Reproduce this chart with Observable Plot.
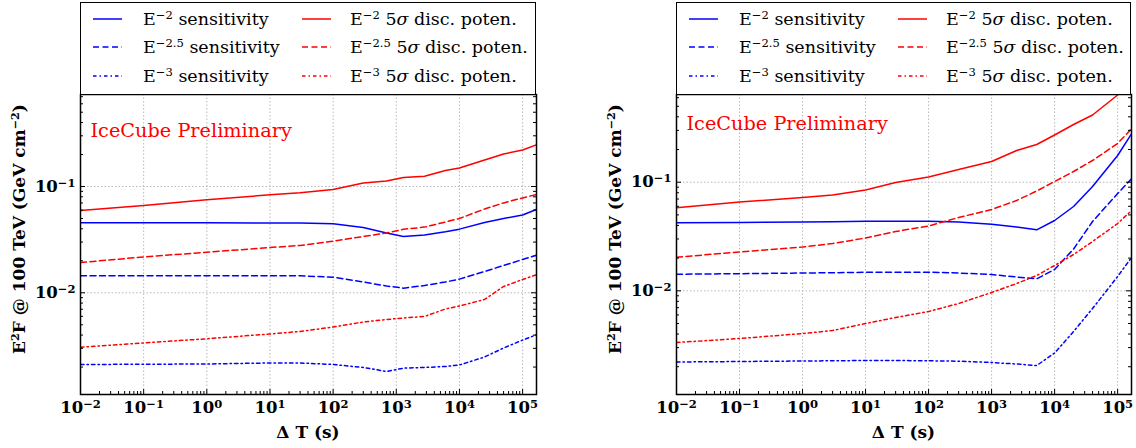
<!DOCTYPE html>
<html>
<head>
<meta charset="utf-8">
<script src="https://cdn.jsdelivr.net/npm/d3@7"></script>
<script src="https://cdn.jsdelivr.net/npm/@observablehq/plot@0.6"></script>
<style>
  body { margin: 0; background: #fff; }
  #chart { position: relative; width: 1136px; height: 448px; overflow: hidden; background: #fff;
           font-family: "DejaVu Serif", serif; color: #000; }
  .panel { position: absolute; top: 0; height: 448px; }
  .legend { position: absolute; top: 1.5px; box-sizing: border-box; border: 1.5px solid #000; background: #fff;
            font-size: 17.5px; }
  .legend .item { position: absolute; height: 24px; line-height: 24px; white-space: nowrap; }
  .legend svg { position: absolute; }
  sup.s { font-size: 0.66em; position: relative; top: -0.5em; vertical-align: baseline; }
  .xtitle { position: absolute; top: 420px; text-align: center; font-weight: bold; font-size: 17px; line-height: 24px; }
  .ytitle { position: absolute; white-space: nowrap; font-weight: bold; font-size: 17px;
            transform: translate(-50%, -50%) rotate(-90deg); }
  .panel svg.plot { position: absolute; top: 93px; left: 0; overflow: visible; }
</style>
</head>
<body>
<div id="chart"></div>
<script>
// Observation windows (seconds) at which each curve is sampled
const LEFT_T  = [0.01, 0.1, 1, 10, 30, 100, 300, 700, 1300, 2800, 6000, 1e4, 2.5e4, 5e4, 1e5, 1.66e5];
const RIGHT_T = [0.01, 0.1, 1, 3, 10, 30, 100, 300, 1000, 2500, 5200, 1e4, 2e4, 4e4, 1e5, 1.66e5];

// Left panel: E^2 F at 100 TeV (GeV cm^-2)
const LEFT_SENS_E2   = [0.0456, 0.0456, 0.0455, 0.0454, 0.0453, 0.0446, 0.0411, 0.0365, 0.0339, 0.0350, 0.0375, 0.0397, 0.0458, 0.0500, 0.0539, 0.0608];
const LEFT_SENS_E25  = [0.01445, 0.01445, 0.01445, 0.01445, 0.01445, 0.01402, 0.01264, 0.01159, 0.01105, 0.01171, 0.01264, 0.01345, 0.01586, 0.01806, 0.02057, 0.02258];
const LEFT_SENS_E3   = [0.002116, 0.002125, 0.002139, 0.002186, 0.002186, 0.002116, 0.001983, 0.001818, 0.001953, 0.001983, 0.002026, 0.002093, 0.002489, 0.003025, 0.003589, 0.004026];
const LEFT_DISC_E2   = [0.0594, 0.0663, 0.0750, 0.0835, 0.0872, 0.0937, 0.1079, 0.1126, 0.1215, 0.1250, 0.1414, 0.1493, 0.1775, 0.2021, 0.2205, 0.2467];
const LEFT_DISC_E25  = [0.01928, 0.02172, 0.02409, 0.02667, 0.02786, 0.03058, 0.03386, 0.03652, 0.03958, 0.04149, 0.04634, 0.0500, 0.0614, 0.0701, 0.0781, 0.0841];
const LEFT_DISC_E3   = [0.003077, 0.003372, 0.003693, 0.004097, 0.004324, 0.004767, 0.005314, 0.005607, 0.005793, 0.005984, 0.007041, 0.00751, 0.00865, 0.01146, 0.01334, 0.01477];

// Right panel: E^2 F at 100 TeV (GeV cm^-2)
const RIGHT_SENS_E2  = [0.04227, 0.04256, 0.04301, 0.04329, 0.04365, 0.04375, 0.04375, 0.04301, 0.04095, 0.03869, 0.03645, 0.0444, 0.05973, 0.09129, 0.1761, 0.279];
const RIGHT_SENS_E25 = [0.01422, 0.01437, 0.01458, 0.01468, 0.0148, 0.01483, 0.01483, 0.01458, 0.01413, 0.0134, 0.0129, 0.01571, 0.02426, 0.04346, 0.07866, 0.1075];
const RIGHT_SENS_E3  = [0.002211, 0.002234, 0.002258, 0.002268, 0.002282, 0.002282, 0.002268, 0.002248, 0.002187, 0.002118, 0.002052, 0.002676, 0.004219, 0.006871, 0.01354, 0.02025];
const RIGHT_DISC_E2  = [0.0581, 0.0657, 0.0723, 0.0762, 0.0848, 0.0994, 0.1116, 0.1309, 0.1551, 0.1957, 0.2224, 0.272, 0.3398, 0.4157, 0.6353, 0.802];
const RIGHT_DISC_E25 = [0.02039, 0.02277, 0.02531, 0.02725, 0.03062, 0.03516, 0.03951, 0.04731, 0.05605, 0.06784, 0.08298, 0.1015, 0.1255, 0.1584, 0.2272, 0.3101];
const RIGHT_DISC_E3  = [0.00334, 0.00364, 0.00404, 0.00431, 0.0050, 0.005676, 0.006447, 0.007638, 0.009645, 0.01167, 0.01383, 0.0171, 0.02159, 0.02844, 0.04166, 0.05488];

// Axis ticks
const X_MAJOR = [1e-2, 1e-1, 1, 1e1, 1e2, 1e3, 1e4, 1e5];
const Y_MAJOR = [1e-2, 1e-1];
const MANTISSAS = [2, 3, 4, 5, 6, 7, 8, 9];

// Legend entries: spectral index and curve kind
const INDICES = ["2", "2.5", "3"];
const KINDS = ["sensitivity", "disc"];

const COLORS = {sensitivity: "#0000ff", disc: "#ff0000"};
const DASHES = {"2": null, "2.5": "6,3.5", "3": "3.5,3,1.5,3"};

const X_DOMAIN = [0.01, 1.66e5];

const panels = [
  {left: 0, width: 556, plotWidth: 456, yDomain: [0.001104, 0.734], prelimDy: 36, T: LEFT_T,
   values: {sensitivity: [LEFT_SENS_E2, LEFT_SENS_E25, LEFT_SENS_E3], disc: [LEFT_DISC_E2, LEFT_DISC_E25, LEFT_DISC_E3]}},
  {left: 596, width: 540, plotWidth: 455, yDomain: [0.00111, 0.642], prelimDy: 29, T: RIGHT_T,
   values: {sensitivity: [RIGHT_SENS_E2, RIGHT_SENS_E25, RIGHT_SENS_E3], disc: [RIGHT_DISC_E2, RIGHT_DISC_E25, RIGHT_DISC_E3]}}
];

function minorTicks(lo, hi) {
  const out = [];
  for (let e = Math.floor(Math.log10(lo)); e <= Math.ceil(Math.log10(hi)); e++) {
    for (const m of MANTISSAS) {
      const v = m * Math.pow(10, e);
      if (v > lo && v < hi) out.push(v);
    }
  }
  return out;
}

const powerLabel = d => "10^" + Math.round(Math.log10(d));

// turn "10^-2" tick strings into a base with a raised exponent
function raiseExponents(svg) {
  svg.querySelectorAll('g[aria-label$="tick label"] text').forEach(t => {
    const m = t.textContent.match(/^10\^(-?\d+)$/);
    if (!m) return;
    t.textContent = "";
    const base = document.createElementNS("http://www.w3.org/2000/svg", "tspan");
    base.textContent = "10";
    const exp = document.createElementNS("http://www.w3.org/2000/svg", "tspan");
    exp.setAttribute("dy", "-0.45em");
    exp.setAttribute("font-size", "11.5px");
    exp.textContent = m[1].replace("-", "\u2212");
    t.append(base, exp);
  });
}

function legendLabel(idx, kind) {
  const sup = `E<sup class="s">\u2212${idx}</sup>`;
  return kind === "sensitivity" ? `${sup} sensitivity` : `${sup} 5<i>\u03c3</i> disc. poten.`;
}

const chart = document.getElementById("chart");

for (const p of panels) {
  const panel = document.createElement("div");
  panel.className = "panel";
  panel.style.left = p.left + "px";
  panel.style.width = p.width + "px";
  chart.append(panel);

  const H = 355, MT = 1, MB = 54, ML = 80;
  const plotH = H - MT - MB;
  const MR = p.width - ML - p.plotWidth;

  const rows = [];
  KINDS.forEach(kind => INDICES.forEach((idx, i) => {
    p.T.forEach((t, j) => rows.push({t, v: p.values[kind][i][j], kind, idx}));
  }));

  const xMinor = minorTicks(X_DOMAIN[0], X_DOMAIN[1]);
  const yMinor = minorTicks(p.yDomain[0], p.yDomain[1]);

  const lineMarks = [];
  KINDS.forEach(kind => INDICES.forEach(idx => {
    lineMarks.push(Plot.line(rows.filter(r => r.kind === kind && r.idx === idx), {
      x: "t", y: "v", stroke: COLORS[kind], strokeWidth: 1.5,
      strokeDasharray: DASHES[idx] || undefined, clip: true
    }));
  }));

  const svg = Plot.plot({
    width: p.width, height: H,
    marginTop: MT, marginBottom: MB, marginLeft: ML, marginRight: MR,
    x: {type: "log", domain: X_DOMAIN},
    y: {type: "log", domain: p.yDomain},
    style: {fontFamily: "DejaVu Serif", background: "transparent", color: "#000"},
    marks: [
      Plot.gridX(X_MAJOR, {stroke: "#b8b8b8", strokeOpacity: 1, strokeDasharray: "1.5,2"}),
      Plot.gridY(Y_MAJOR, {stroke: "#b8b8b8", strokeOpacity: 1, strokeDasharray: "1.5,2"}),
      ...lineMarks,
      // inward ticks along bottom, left and right edges
      Plot.tickX(X_MAJOR, {x: d => d, insetTop: plotH - 5, stroke: "#000"}),
      Plot.tickX(xMinor, {x: d => d, insetTop: plotH - 3, stroke: "#000"}),
      Plot.tickY(Y_MAJOR, {y: d => d, insetRight: p.plotWidth - 5, stroke: "#000"}),
      Plot.tickY(yMinor, {y: d => d, insetRight: p.plotWidth - 3, stroke: "#000"}),
      Plot.tickY(Y_MAJOR, {y: d => d, insetLeft: p.plotWidth - 5, stroke: "#000"}),
      Plot.tickY(yMinor, {y: d => d, insetLeft: p.plotWidth - 3, stroke: "#000"}),
      Plot.frame({stroke: "#000", strokeWidth: 1.5}),
      Plot.axisX(X_MAJOR, {tickSize: 0, tickPadding: 7, tickFormat: powerLabel, fontSize: 16.5, fontWeight: "bold", label: null}),
      Plot.axisY(Y_MAJOR, {tickSize: 0, tickPadding: 5, tickFormat: powerLabel, fontSize: 16.5, fontWeight: "bold", label: null}),
      Plot.text(["IceCube Preliminary"], {frameAnchor: "top-left", dx: 10, dy: p.prelimDy, lineAnchor: "middle",
        textAnchor: "start", fill: "#ff0000", fontSize: 19.3})
    ]
  });
  svg.classList.add("plot");
  raiseExponents(svg);
  panel.append(svg);

  // legend box sitting on top of the axes frame
  const legend = document.createElement("div");
  legend.className = "legend";
  legend.style.left = ML + "px";
  legend.style.width = p.plotWidth + "px";
  legend.style.height = "93px";
  panel.append(legend);
  const colX = [{sample: 12, text: 62}, {sample: 221, text: 269}];
  KINDS.forEach((kind, c) => INDICES.forEach((idx, r) => {
    const cy = 16 + r * 28.7;
    const s = d3.create("svg").attr("width", 30).attr("height", 6)
      .style("left", colX[c].sample + "px").style("top", (cy - 3) + "px");
    s.append("line").attr("x1", 0).attr("x2", 29).attr("y1", 3).attr("y2", 3)
      .attr("stroke", COLORS[kind]).attr("stroke-width", 1.5)
      .attr("stroke-dasharray", DASHES[idx]);
    legend.append(s.node());
    const item = document.createElement("div");
    item.className = "item";
    item.style.left = colX[c].text + "px";
    item.style.top = (cy - 12) + "px";
    item.innerHTML = legendLabel(idx, kind);
    legend.append(item);
  }));

  const xt = document.createElement("div");
  xt.className = "xtitle";
  xt.style.left = ML + "px";
  xt.style.width = p.plotWidth + "px";
  xt.textContent = "\u0394 T (s)";
  panel.append(xt);

  const yt = document.createElement("div");
  yt.className = "ytitle";
  yt.style.left = "19px";
  yt.style.top = "229px";
  yt.innerHTML = 'E<sup class="s">2</sup>F @ 100 TeV (GeV cm<sup class="s">\u22122</sup>)';
  panel.append(yt);
}
</script>
</body>
</html>
